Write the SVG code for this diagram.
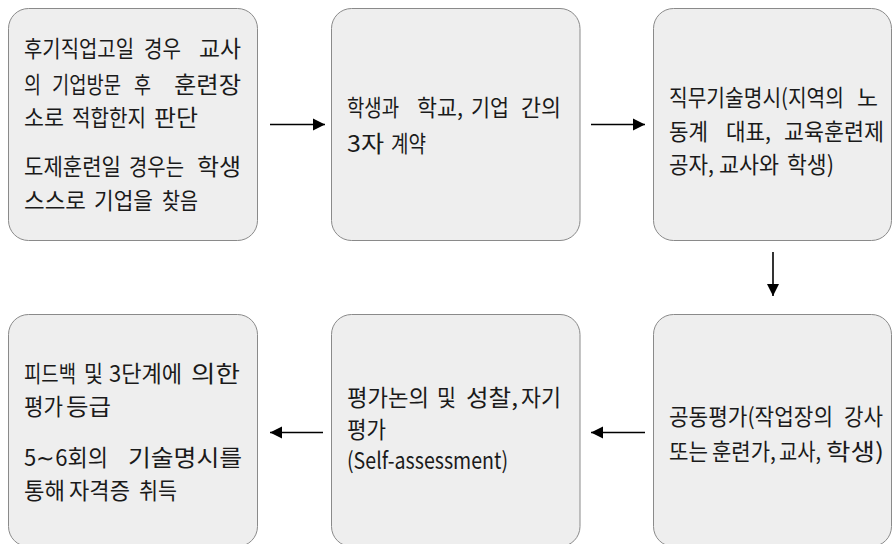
<svg xmlns="http://www.w3.org/2000/svg" width="893" height="544" viewBox="0 0 893 544">
<style>
.box{fill:#eeeeee;stroke:#8a8a8a;stroke-width:1}
.t{font-family:"Noto Sans CJK KR","Noto Sans",sans-serif;font-size:23px;fill:#1a1a1a}
.c{stroke:#000;stroke-width:1.6;fill:none}
</style>
<defs>
<marker id="ah" viewBox="0 0 10 10" refX="10" refY="5" markerWidth="12" markerHeight="14" markerUnits="userSpaceOnUse" orient="auto">
<path d="M0,0 L10,5 L0,10 Z" fill="#000"/>
</marker>
</defs>
<rect width="893" height="544" fill="#fff"/>
<g id="connectors">
<line class="c" x1="270" y1="124.5" x2="325" y2="124.5" marker-end="url(#ah)"/>
<line class="c" x1="591" y1="124.5" x2="645" y2="124.5" marker-end="url(#ah)"/>
<line class="c" x1="773" y1="252" x2="773" y2="296" marker-end="url(#ah)"/>
<line class="c" x1="645" y1="432.5" x2="591" y2="432.5" marker-end="url(#ah)"/>
<line class="c" x1="323" y1="432.5" x2="270" y2="432.5" marker-end="url(#ah)"/>
</g>
<g id="node1">
<rect class="box" x="8.5" y="8.5" width="249" height="232" rx="20"/>
<g transform="scale(0.79,1)">
<text class="t" y="57.5"><tspan x="30.38" textLength="139.24" lengthAdjust="spacingAndGlyphs">후기직업고일</tspan> <tspan x="182.28" textLength="46.84" lengthAdjust="spacingAndGlyphs">경우</tspan> <tspan x="251.9" textLength="53.16" lengthAdjust="spacingAndGlyphs">교사</tspan></text>
<text class="t" y="93"><tspan x="30.38" textLength="21.52" lengthAdjust="spacingAndGlyphs">의</tspan> <tspan x="65.82" textLength="87.34" lengthAdjust="spacingAndGlyphs">기업방문</tspan> <tspan x="169.62" textLength="21.52" lengthAdjust="spacingAndGlyphs">후</tspan> <tspan x="220.25" textLength="84.81" lengthAdjust="spacingAndGlyphs">훈련장</tspan></text>
<text class="t" y="126"><tspan x="30.38" textLength="50.63" lengthAdjust="spacingAndGlyphs">소로</tspan> <tspan x="91.14" textLength="93.67" lengthAdjust="spacingAndGlyphs">적합한지</tspan> <tspan x="194.94" textLength="55.7" lengthAdjust="spacingAndGlyphs">판단</tspan></text>
<text class="t" y="175"><tspan x="30.38" textLength="122.78" lengthAdjust="spacingAndGlyphs">도제훈련일</tspan> <tspan x="163.29" textLength="69.62" lengthAdjust="spacingAndGlyphs">경우는</tspan> <tspan x="249.37" textLength="55.7" lengthAdjust="spacingAndGlyphs">학생</tspan></text>
<text class="t" y="209.5"><tspan x="30.38" textLength="78.48" lengthAdjust="spacingAndGlyphs">스스로</tspan> <tspan x="118.99" textLength="74.68" lengthAdjust="spacingAndGlyphs">기업을</tspan> <tspan x="205.06" textLength="45.57" lengthAdjust="spacingAndGlyphs">찾음</tspan></text>
</g>
</g>
<g id="node2">
<rect class="box" x="331.5" y="8.5" width="248.5" height="232" rx="20"/>
<g transform="scale(0.79,1)">
<text class="t" y="116"><tspan x="439.24" textLength="65.82" lengthAdjust="spacingAndGlyphs">학생과</tspan> <tspan x="527.85" textLength="58.23" lengthAdjust="spacingAndGlyphs">학교,</tspan> <tspan x="596.2" textLength="48.1" lengthAdjust="spacingAndGlyphs">기업</tspan> <tspan x="659.49" textLength="50.63" lengthAdjust="spacingAndGlyphs">간의</tspan></text>
<text class="t" y="152"><tspan x="439.24" textLength="46.84" lengthAdjust="spacingAndGlyphs">3자</tspan> <tspan x="494.94" textLength="44.3" lengthAdjust="spacingAndGlyphs">계약</tspan></text>
</g>
</g>
<g id="node3">
<rect class="box" x="653.5" y="8.5" width="238" height="232" rx="20"/>
<g transform="scale(0.79,1)">
<text class="t" y="106"><tspan x="846.84" textLength="221.52" lengthAdjust="spacingAndGlyphs">직무기술명시(지역의</tspan> <tspan x="1084.81" textLength="26.58" lengthAdjust="spacingAndGlyphs">노</tspan></text>
<text class="t" y="140"><tspan x="846.84" textLength="49.37" lengthAdjust="spacingAndGlyphs">동계</tspan> <tspan x="918.99" textLength="56.96" lengthAdjust="spacingAndGlyphs">대표,</tspan> <tspan x="992.41" textLength="126.58" lengthAdjust="spacingAndGlyphs">교육훈련제</tspan></text>
<text class="t" y="173"><tspan x="846.84" textLength="56.96" lengthAdjust="spacingAndGlyphs">공자,</tspan> <tspan x="910.13" textLength="75.95" lengthAdjust="spacingAndGlyphs">교사와</tspan> <tspan x="996.2" textLength="59.49" lengthAdjust="spacingAndGlyphs">학생)</tspan></text>
</g>
</g>
<g id="node4">
<rect class="box" x="653.5" y="314.5" width="238" height="232" rx="20"/>
<g transform="scale(0.79,1)">
<text class="t" y="425"><tspan x="846.84" textLength="207.59" lengthAdjust="spacingAndGlyphs">공동평가(작업장의</tspan> <tspan x="1068.35" textLength="49.37" lengthAdjust="spacingAndGlyphs">강사</tspan></text>
<text class="t" y="460"><tspan x="846.84" textLength="49.37" lengthAdjust="spacingAndGlyphs">또는</tspan> <tspan x="901.27" textLength="81.01" lengthAdjust="spacingAndGlyphs">훈련가,</tspan> <tspan x="986.08" textLength="53.16" lengthAdjust="spacingAndGlyphs">교사,</tspan> <tspan x="1045.57" textLength="73.42" lengthAdjust="spacingAndGlyphs">학생)</tspan></text>
</g>
</g>
<g id="node5">
<rect class="box" x="331.5" y="314.5" width="248.5" height="232" rx="20"/>
<g transform="scale(0.79,1)">
<text class="t" y="406"><tspan x="439.24" textLength="103.8" lengthAdjust="spacingAndGlyphs">평가논의</tspan> <tspan x="553.16" textLength="24.05" lengthAdjust="spacingAndGlyphs">및</tspan> <tspan x="589.87" textLength="65.82" lengthAdjust="spacingAndGlyphs">성찰,</tspan> <tspan x="659.49" textLength="50.63" lengthAdjust="spacingAndGlyphs">자기</tspan></text>
<text class="t" y="438"><tspan x="439.24" textLength="49.37" lengthAdjust="spacingAndGlyphs">평가</tspan></text>
<text class="t" y="469.5"><tspan x="439.24" textLength="203.8" lengthAdjust="spacingAndGlyphs">(Self-assessment)</tspan></text>
</g>
</g>
<g id="node6">
<rect class="box" x="8.5" y="314.5" width="249" height="232" rx="20"/>
<g transform="scale(0.79,1)">
<text class="t" y="382"><tspan x="30.38" textLength="65.82" lengthAdjust="spacingAndGlyphs">피드백</tspan> <tspan x="106.33" textLength="24.05" lengthAdjust="spacingAndGlyphs">및</tspan> <tspan x="137.97" textLength="92.41" lengthAdjust="spacingAndGlyphs">3단계에</tspan> <tspan x="241.77" textLength="62.03" lengthAdjust="spacingAndGlyphs">의한</tspan></text>
<text class="t" y="415"><tspan x="30.38" textLength="49.37" lengthAdjust="spacingAndGlyphs">평가</tspan> <tspan x="83.54" textLength="56.96" lengthAdjust="spacingAndGlyphs">등급</tspan></text>
<text class="t" y="466"><tspan x="30.38" textLength="106.33" lengthAdjust="spacingAndGlyphs">5∼6회의</tspan> <tspan x="162.03" textLength="144.3" lengthAdjust="spacingAndGlyphs">기술명시를</tspan></text>
<text class="t" y="499"><tspan x="30.38" textLength="51.9" lengthAdjust="spacingAndGlyphs">통해</tspan> <tspan x="87.34" textLength="77.22" lengthAdjust="spacingAndGlyphs">자격증</tspan> <tspan x="175.95" textLength="48.1" lengthAdjust="spacingAndGlyphs">취득</tspan></text>
</g>
</g>
</svg>
